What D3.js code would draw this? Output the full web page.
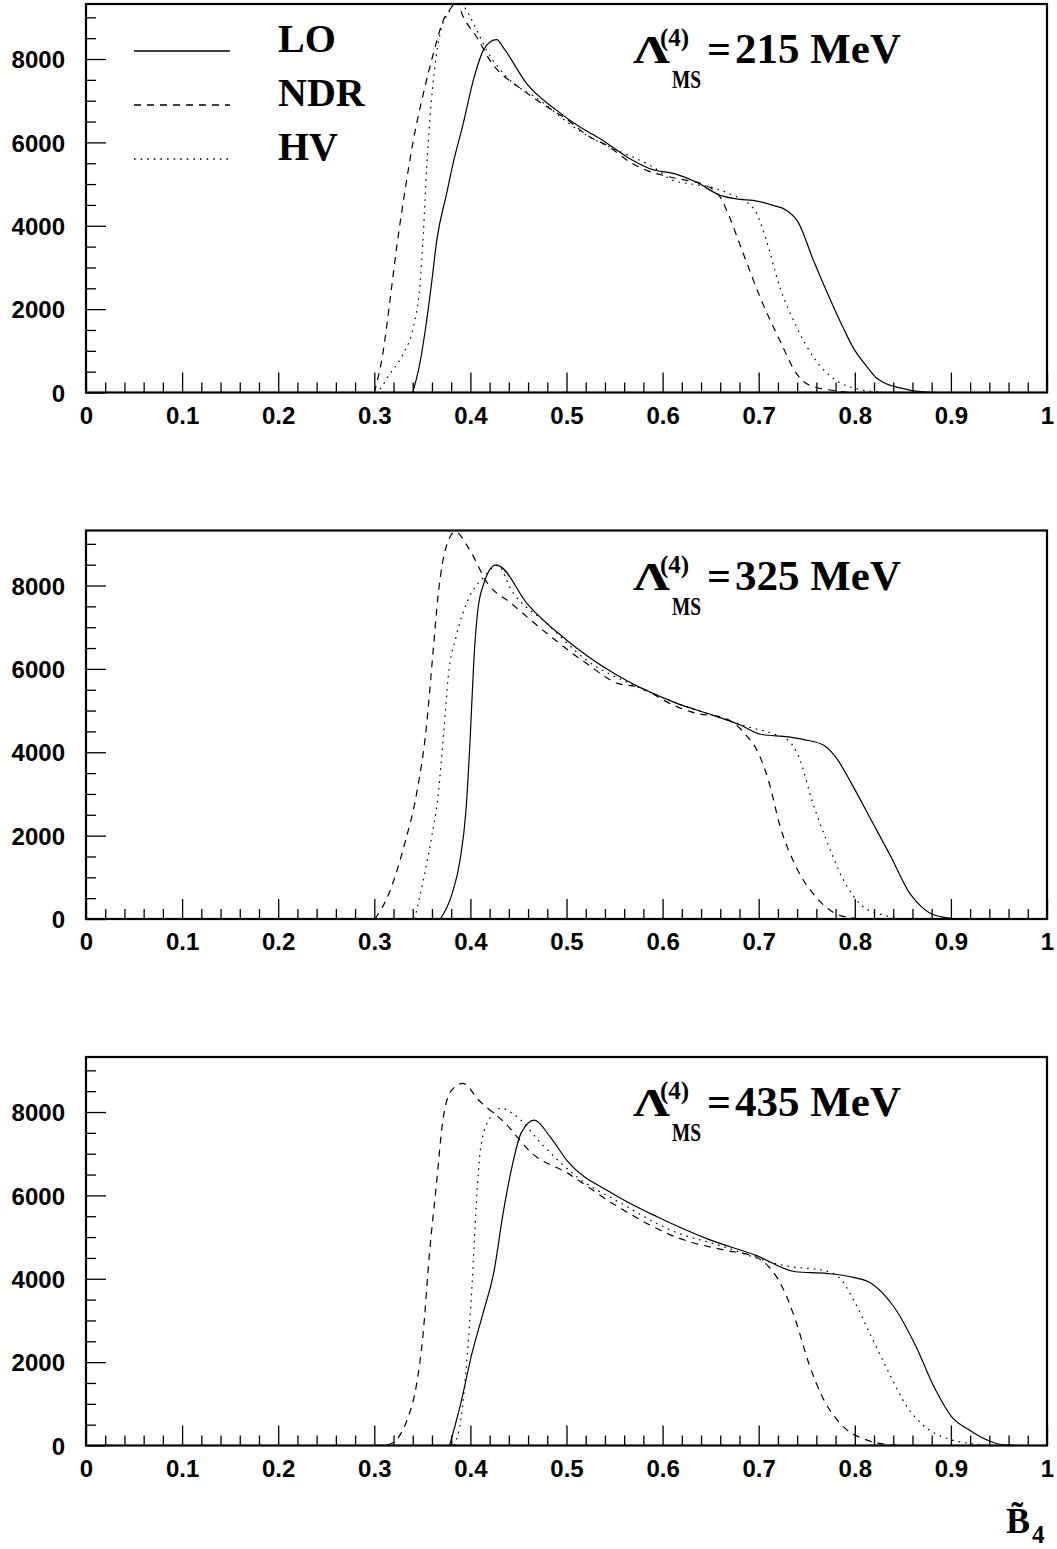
<!DOCTYPE html>
<html><head><meta charset="utf-8">
<script src="https://cdn.jsdelivr.net/npm/d3@7"></script>
<style>
html,body{margin:0;padding:0;background:#fff;}
svg{display:block;}
</style>
</head><body>
<svg id="chart" width="1057" height="1549"></svg>
<script>
// ---------- data ----------
const LAMBDA_VALUES = ["215", "325", "435"];
const SERIES_NAMES = ["LO", "NDR", "HV"];
const X_TICKS = [0, 0.1, 0.2, 0.3, 0.4, 0.5, 0.6, 0.7, 0.8, 0.9, 1];
const X_TICK_LABELS = ["0", "0.1", "0.2", "0.3", "0.4", "0.5", "0.6", "0.7", "0.8", "0.9", "1"];
const Y_TICKS = [0, 2000, 4000, 6000, 8000];
const Y_TICK_LABELS = ["0", "2000", "4000", "6000", "8000"];
const Y_MAX = 9320;

// Lambda = 215 MeV
const LO_215 = [[0.340,0],[0.347,650],[0.3545,1728],[0.360,2700],[0.365,3648],[0.3753,4776],[0.382,5496],[0.3926,6456],[0.403,7488],[0.4134,8208],[0.4204,8408],[0.4273,8464],[0.435,8250],[0.4586,7408],[0.4898,6768],[0.514,6368],[0.535,6088],[0.566,5608],[0.587,5368],[0.6147,5232],[0.635,5048],[0.660,4728],[0.6805,4632],[0.694,4608],[0.715,4488],[0.729,4368],[0.741,4088],[0.757,3168],[0.778,2048],[0.788,1550],[0.798,1088],[0.814,580],[0.822,360],[0.830,240],[0.847,110],[0.868,20],[0.885,0]];
const NDR_215 = [[0.300,0],[0.3094,1008],[0.3163,2208],[0.3233,3488],[0.332,4848],[0.3406,6048],[0.351,7168],[0.3614,8128],[0.3718,8928],[0.3805,9248],[0.385,9420],[0.3926,9008],[0.4066,8528],[0.4204,7968],[0.455,7248],[0.480,6850],[0.500,6560],[0.514,6300],[0.5245,6130],[0.542,5928],[0.566,5528],[0.5834,5328],[0.6007,5208],[0.625,5088],[0.639,5024],[0.660,4688],[0.6667,4368],[0.684,3328],[0.7014,2288],[0.722,1248],[0.7395,448],[0.7534,168],[0.778,48],[0.795,0]];
const HV_215 = [[0.300,0],[0.304,48],[0.3163,448],[0.330,928],[0.3406,1568],[0.3476,2608],[0.351,3808],[0.3545,5408],[0.358,6608],[0.363,7808],[0.3684,8608],[0.3788,9168],[0.387,9420],[0.396,9168],[0.4066,8688],[0.417,8208],[0.4378,7568],[0.4724,7008],[0.514,6268],[0.5487,5848],[0.573,5608],[0.590,5408],[0.611,5088],[0.6285,5008],[0.6527,4912],[0.6736,4728],[0.6875,4568],[0.698,4288],[0.708,3648],[0.722,2528],[0.7395,1568],[0.757,848],[0.778,328],[0.802,88],[0.830,0]];

// Lambda = 325 MeV
const LO_325 = [[0.3687,0],[0.381,608],[0.3892,1408],[0.3954,2608],[0.3995,4208],[0.4036,6208],[0.4077,7408],[0.414,8048],[0.4262,8488],[0.4304,8464],[0.459,7568],[0.5003,6688],[0.5496,5888],[0.6155,5168],[0.6525,4888],[0.6814,4648],[0.7019,4432],[0.7307,4368],[0.7471,4304],[0.7677,4168],[0.780,3888],[0.7966,3248],[0.8172,2368],[0.8377,1488],[0.8574,608],[0.870,280],[0.880,120],[0.890,50],[0.905,0]];
const NDR_325 = [[0.3007,0],[0.3152,608],[0.3316,1808],[0.344,3008],[0.3542,4608],[0.3604,6208],[0.3666,7808],[0.3748,8928],[0.3843,9288],[0.3974,8928],[0.418,8048],[0.4427,7568],[0.4797,6848],[0.5209,6128],[0.5538,5648],[0.5744,5568],[0.6114,5128],[0.6361,4928],[0.6608,4848],[0.6855,4448],[0.6999,3968],[0.7101,3328],[0.7225,2208],[0.7389,1248],[0.7595,528],[0.780,128],[0.7966,30],[0.810,0]];
const HV_325 = [[0.342,0],[0.3502,848],[0.3584,1808],[0.3666,3008],[0.3727,4608],[0.3769,5808],[0.3851,6768],[0.3974,7648],[0.414,8208],[0.4283,8488],[0.4427,7888],[0.4797,7088],[0.5209,6208],[0.566,5648],[0.6073,5248],[0.6567,4848],[0.6896,4608],[0.7143,4448],[0.7307,4288],[0.7431,3808],[0.7554,2848],[0.7719,1808],[0.7884,928],[0.8089,288],[0.8294,96],[0.850,0]];

// Lambda = 435 MeV
const LO_435 = [[0.3784,0],[0.390,1008],[0.4016,2208],[0.4131,3168],[0.4248,4208],[0.434,5568],[0.4433,6688],[0.4526,7488],[0.4666,7808],[0.4828,7408],[0.5015,6808],[0.5479,6048],[0.5943,5488],[0.650,4928],[0.6965,4568],[0.7383,4168],[0.7708,4128],[0.7988,4032],[0.8173,3888],[0.8406,3328],[0.8638,2368],[0.8824,1408],[0.9009,688],[0.9195,368],[0.9381,128],[0.951,30],[0.970,0]];
const NDR_435 = [[0.300,0],[0.312,10],[0.3226,128],[0.334,608],[0.3435,1408],[0.3505,2608],[0.3574,4608],[0.3644,6208],[0.3714,7808],[0.3806,8528],[0.3923,8688],[0.4085,8288],[0.4364,7728],[0.4642,7008],[0.5015,6528],[0.5479,5808],[0.6176,4968],[0.664,4688],[0.6965,4528],[0.7105,4288],[0.7244,3808],[0.7383,3008],[0.7522,1968],[0.7662,1168],[0.7848,528],[0.8127,128],[0.8312,30],[0.850,0]];
const HV_435 = [[0.383,0],[0.390,608],[0.3969,2208],[0.4016,3808],[0.4062,5808],[0.4108,7168],[0.4201,7848],[0.4317,8088],[0.4504,7848],[0.4736,7248],[0.5107,6448],[0.5571,5808],[0.6082,5168],[0.664,4768],[0.7105,4408],[0.7337,4288],[0.7662,4208],[0.7848,4008],[0.7988,3488],[0.8173,2608],[0.8359,1728],[0.8544,928],[0.873,448],[0.8962,168],[0.9195,48],[0.940,0]];

const PANELS = [
  [LO_215, NDR_215, HV_215],
  [LO_325, NDR_325, HV_325],
  [LO_435, NDR_435, HV_435]
];

// ---------- drawing ----------
const svg = d3.select("#chart");
const LEFT = 86, RIGHT = 1047, PANEL_H = 388.5;
const TOPS = [4, 530.5, 1057];
const SANS = "'Liberation Sans', Arial, sans-serif";
const SERIF = "'Liberation Serif', 'Times New Roman', serif";
const DASH = ["none", "7,6", "1.6,5"];

const x = d3.scaleLinear().domain([0, 1]).range([LEFT, RIGHT]);

PANELS.forEach((series, i) => {
  const top = TOPS[i], bottom = top + PANEL_H;
  const y = d3.scaleLinear().domain([0, Y_MAX]).range([bottom, top]);
  const g = svg.append("g");

  const clipId = "clip" + i;
  svg.append("clipPath").attr("id", clipId).append("rect")
    .attr("x", LEFT).attr("y", top).attr("width", RIGHT - LEFT).attr("height", PANEL_H);

  // minor x ticks
  const xMinor = d3.range(0, 1.0001, 0.02).filter(v => Math.abs(v * 10 - Math.round(v * 10)) > 1e-6);
  g.append("g").attr("transform", `translate(0,${bottom})`)
    .call(d3.axisBottom(x).tickValues(xMinor).tickSize(-10).tickFormat(""))
    .call(a => a.select(".domain").remove())
    .call(a => a.selectAll("line").attr("stroke", "#000").attr("stroke-width", 1.3));
  // major x ticks
  g.append("g").attr("transform", `translate(0,${bottom})`)
    .call(d3.axisBottom(x).tickValues(X_TICKS).tickSize(-20).tickPadding(14)
      .tickFormat((d, k) => X_TICK_LABELS[k]))
    .call(a => a.select(".domain").remove())
    .call(a => a.selectAll("line").attr("stroke", "#000").attr("stroke-width", 1.3))
    .call(a => a.selectAll("text").attr("fill", "#000")
      .attr("font-family", SANS).attr("font-weight", "bold").attr("font-size", 24));

  // minor y ticks
  const yMinor = d3.range(500, Y_MAX, 500).filter(v => v % 2000 !== 0);
  g.append("g").attr("transform", `translate(${LEFT},0)`)
    .call(d3.axisLeft(y).tickValues(yMinor).tickSize(-10).tickFormat(""))
    .call(a => a.select(".domain").remove())
    .call(a => a.selectAll("line").attr("stroke", "#000").attr("stroke-width", 1.3));
  g.append("g").attr("transform", `translate(${LEFT},0)`)
    .call(d3.axisLeft(y).tickValues(Y_TICKS).tickSize(-20).tickPadding(21)
      .tickFormat((d, k) => Y_TICK_LABELS[k]))
    .call(a => a.select(".domain").remove())
    .call(a => a.selectAll("line").attr("stroke", "#000").attr("stroke-width", 1.3))
    .call(a => a.selectAll("text").attr("fill", "#000").attr("dy", "0.36em")
      .attr("font-family", SANS).attr("font-weight", "bold").attr("font-size", 24));

  // curves
  const line = d3.line().x(d => x(d[0])).y(d => y(d[1])).curve(d3.curveMonotoneX);
  series.forEach((data, s) => {
    g.append("path").datum(data)
      .attr("clip-path", `url(#${clipId})`)
      .attr("d", line)
      .attr("fill", "none").attr("stroke", "#000")
      .attr("stroke-width", 1.2)
      .attr("stroke-dasharray", DASH[s]);
  });

  // frame
  g.append("rect").attr("x", LEFT).attr("y", top)
    .attr("width", RIGHT - LEFT).attr("height", PANEL_H)
    .attr("fill", "none").attr("stroke", "#000").attr("stroke-width", 2.2);

  // Lambda label
  const base = top + 59;
  const lab = g.append("g").attr("font-family", SERIF).attr("font-weight", "bold").attr("fill", "#000");
  lab.append("text").attr("x", 633).attr("y", base).attr("font-size", 40)
    .attr("textLength", 37).attr("lengthAdjust", "spacingAndGlyphs").text("Λ");
  lab.append("text").attr("x", 660).attr("y", base - 17).attr("font-size", 25).text("(4)");
  lab.append("text").attr("x", 672).attr("y", base + 25).attr("font-size", 26)
    .attr("textLength", 29).attr("lengthAdjust", "spacingAndGlyphs").text("MS");
  lab.append("text").attr("x", 707).attr("y", base).attr("font-size", 42).text("=");
  lab.append("text").attr("x", 735).attr("y", base).attr("font-size", 42)
    .attr("textLength", 166).attr("lengthAdjust", "spacingAndGlyphs")
    .text(LAMBDA_VALUES[i] + " MeV");

  // legend (first panel only)
  if (i === 0) {
    const legY = [51, 105, 159];
    SERIES_NAMES.forEach((name, s) => {
      g.append("line").attr("x1", 134).attr("x2", 230)
        .attr("y1", legY[s]).attr("y2", legY[s])
        .attr("stroke", "#000").attr("stroke-width", 1.3)
        .attr("stroke-dasharray", DASH[s]);
      g.append("text").attr("x", 278).attr("y", legY[s] + 1)
        .attr("font-family", SERIF).attr("font-weight", "bold").attr("font-size", 40)
        .attr("fill", "#000").text(name);
    });
  }
});

// x-axis title  B~_4
const t = svg.append("g").attr("font-family", SERIF).attr("font-weight", "bold").attr("fill", "#000");
t.append("text").attr("x", 1006).attr("y", 1533).attr("font-size", 36).text("B\u0303");
t.append("text").attr("x", 1032).attr("y", 1543).attr("font-size", 25).text("4");
</script>
</body></html>
